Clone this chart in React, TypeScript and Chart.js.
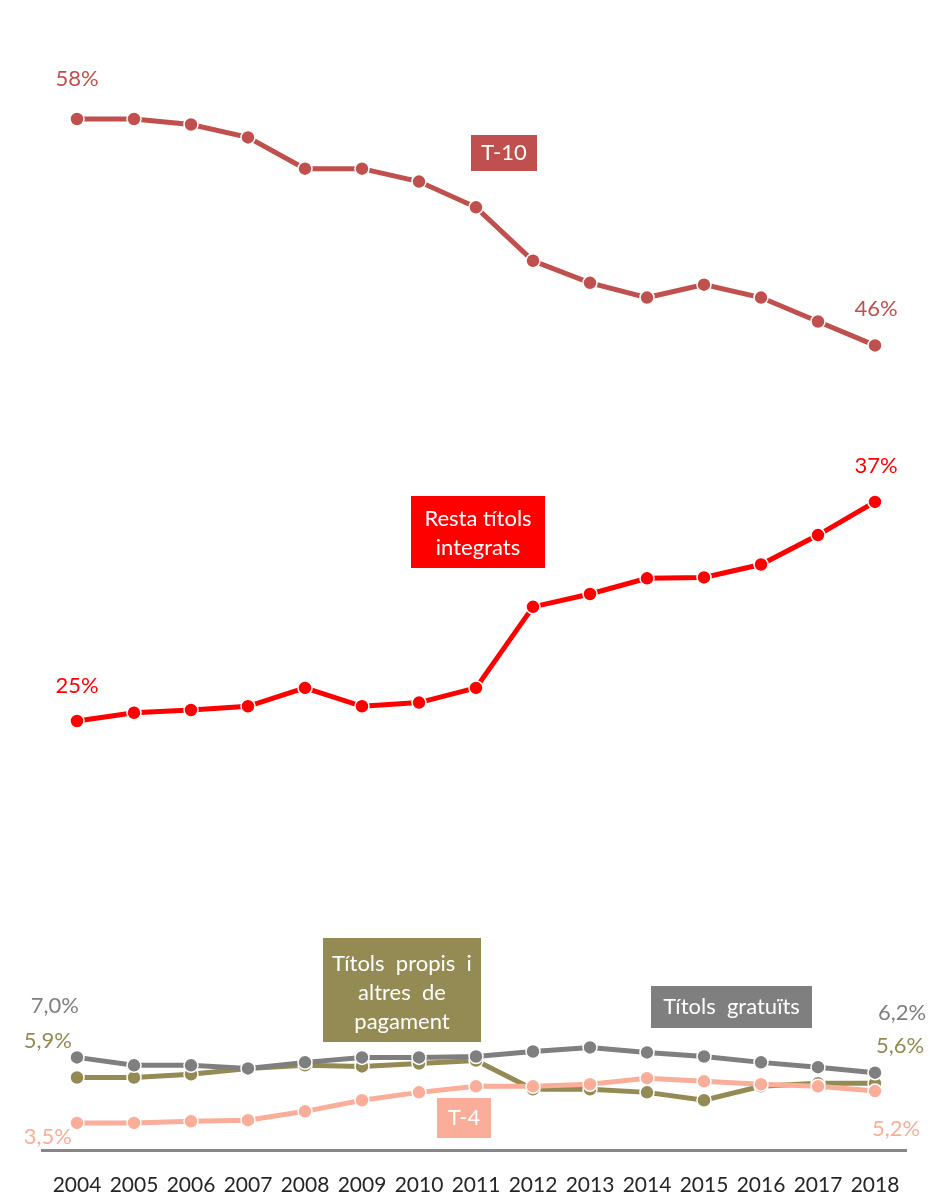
import React, { useEffect, useRef } from "react";
import { Chart, registerables } from "chart.js";

Chart.register(...registerables);

const years = ["2004", "2005", "2006", "2007", "2008", "2009", "2010", "2011", "2012", "2013", "2014", "2015", "2016", "2017", "2018"];
const t10 = [58.0, 58.0, 57.7, 57.0, 55.3, 55.3, 54.6, 53.2, 50.3, 49.1, 48.3, 49.0, 48.3, 47.0, 45.7];
const restaIntegrats = [25.3, 25.75, 25.9, 26.1, 27.1, 26.1, 26.3, 27.1, 31.5, 32.2, 33.05, 33.1, 33.8, 35.4, 37.2];
const titolsGratuits = [7.03, 6.6, 6.6, 6.43, 6.76, 7.03, 7.03, 7.08, 7.35, 7.57, 7.3, 7.08, 6.76, 6.5, 6.2];
const titolsPropis = [5.94, 5.94, 6.11, 6.43, 6.6, 6.54, 6.7, 6.86, 5.3, 5.3, 5.13, 4.7, 5.46, 5.62, 5.62];
const t4 = [3.47, 3.47, 3.56, 3.62, 4.1, 4.7, 5.13, 5.46, 5.46, 5.57, 5.9, 5.73, 5.57, 5.46, 5.2];

const seriesNames = ["T-10", "Resta títols integrats", "Títols gratuïts", "T-4", "Títols propis i altres de pagament"];
const seriesColors = ["#C0504D", "#FF0000", "#7F7F7F", "#FAAE99", "#948A54"];
const seriesDecimals = [0, 0, 1, 1, 1];

const FONT = "Lato, 'Open Sans', sans-serif";

function fmt(v: number, d: number) {
  return v.toFixed(d).replace(".", ",") + "%";
}

// end labels: dataset, index, offset from point, alignment
const endLabels = [
  { ds: 0, idx: 0, dx: 0, dy: -40, align: "center" },
  { ds: 0, idx: 14, dx: 1, dy: -37, align: "center" },
  { ds: 1, idx: 0, dx: 0, dy: -35, align: "center" },
  { ds: 1, idx: 14, dx: 1, dy: -36, align: "center" },
  { ds: 2, idx: 0, dx: 2, dy: -51, align: "right" },
  { ds: 4, idx: 0, dx: -5, dy: -37, align: "right" },
  { ds: 3, idx: 0, dx: -5, dy: 14, align: "right" },
  { ds: 2, idx: 14, dx: 3, dy: -60, align: "left" },
  { ds: 4, idx: 14, dx: 1, dy: -37, align: "left" },
  { ds: 3, idx: 14, dx: -3, dy: 38, align: "left" },
];

// series name boxes
const nameBoxes = [
  { ds: 0, x: 471, y: 135, w: 66, h: 36, lines: ["T-10"], ty: 0 },
  { ds: 1, x: 411, y: 496, w: 134, h: 72, lines: ["Resta títols", "integrats"], ty: 1 },
  { ds: 4, x: 323, y: 938, w: 158, h: 104, lines: ["Títols  propis  i", "altres  de", "pagament"], ty: 3 },
  { ds: 2, x: 651, y: 986, w: 161, h: 42, lines: ["Títols  gratuïts"], ty: 0 },
  { ds: 3, x: 437, y: 1098, w: 54, h: 40, lines: ["T-4"], ty: 0 },
];

const annotPlugin = {
  id: "annot",
  afterDatasetsDraw(chart: any) {
    const ctx = chart.ctx as CanvasRenderingContext2D;
    ctx.save();
    // axis line
    ctx.strokeStyle = "#878787";
    ctx.lineWidth = 3;
    ctx.beginPath();
    ctx.moveTo(41, chart.chartArea.bottom + 0.5);
    ctx.lineTo(907, chart.chartArea.bottom + 0.5);
    ctx.stroke();

    // labels
    ctx.font = `22px ${FONT}`;
    ctx.textBaseline = "middle";
    for (const l of endLabels) {
      const meta = chart.getDatasetMeta(l.ds);
      const pt = meta.data[l.idx];
      const v = chart.data.datasets[l.ds].data[l.idx] as number;
      ctx.fillStyle = seriesColors[l.ds];
      ctx.textAlign = l.align as CanvasTextAlign;
      ctx.fillText(fmt(v, seriesDecimals[l.ds]), pt.x + l.dx, pt.y + l.dy);
    }

    // boxes
    for (const b of nameBoxes) {
      ctx.fillStyle = seriesColors[b.ds];
      ctx.fillRect(b.x, b.y, b.w, b.h);
      ctx.fillStyle = "#FFFFFF";
      ctx.textAlign = "center";
      const lh = 29;
      const startY = b.y + b.h / 2 - ((b.lines.length - 1) * lh) / 2 + b.ty;
      b.lines.forEach((line, i) => {
        ctx.fillText(line, b.x + b.w / 2, startY + i * lh);
      });
    }
    ctx.restore();
  },
};

export default function App() {
  const ref = useRef<HTMLCanvasElement>(null);
  useEffect(() => {
    if (!ref.current) return;
    const all = [t10, restaIntegrats, titolsGratuits, t4, titolsPropis];
    const chart = new Chart(ref.current, {
      type: "line",
      data: {
        labels: years,
        datasets: all.map((d, i) => ({
          label: seriesNames[i],
          data: d,
          borderColor: seriesColors[i],
          backgroundColor: seriesColors[i],
          borderWidth: 5,
          pointRadius: 7,
          pointBorderColor: "#FFFFFF",
          pointBorderWidth: 1.5,
          pointBackgroundColor: seriesColors[i],
          tension: 0,
          fill: false,
        })),
      },
      options: {
        responsive: false,
        animation: false,
        devicePixelRatio: 1,
        layout: { padding: { left: 48.5, right: 24.5, top: 2, bottom: 0 } },
        plugins: { legend: { display: false }, tooltip: { enabled: false }, title: { display: false } },
        scales: {
          x: {
            offset: true,
            grid: { display: false, drawTicks: false },
            border: { display: false },
            ticks: {
              color: "#262626",
              font: { family: FONT, size: 21 },
              padding: 23,
              maxRotation: 0,
              autoSkip: false,
            },
            afterFit: (scale: any) => {
              scale.height = 45;
            },
          },
          y: { display: false, min: 2, max: 64 },
        },
      },
      plugins: [annotPlugin],
    });
    return () => chart.destroy();
  }, []);
  return (
    <div style={{ position: "absolute", left: 0, top: 0, width: 928, height: 1195, background: "#fff" }}>
      <canvas ref={ref} width={928} height={1195} />
    </div>
  );
}
